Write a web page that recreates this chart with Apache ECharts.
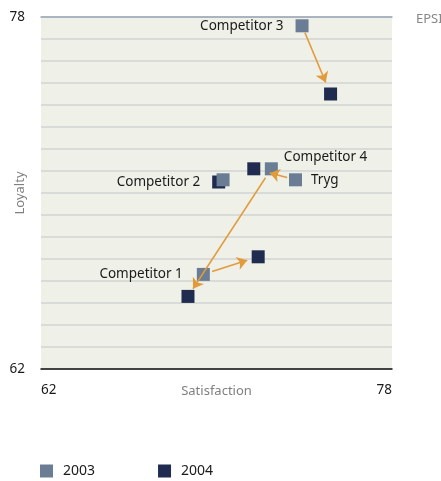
<!DOCTYPE html>
<html><head><meta charset="utf-8">
<script src="https://cdn.jsdelivr.net/npm/echarts@6/dist/echarts.min.js"></script>
<style>html,body{margin:0;padding:0;background:#fff}#c{width:441px;height:481px}</style>
</head><body><div id="c"></div>
<script>
const names = ['Competitor 1', 'Competitor 2', 'Competitor 3', 'Competitor 4', 'Tryg'];
const sat2003 = [69.4, 70.3, 73.9, 72.5, 73.6];
const loy2003 = [66.3, 70.6, 77.6, 71.1, 70.6];
const sat2004 = [71.9, 70.1, 75.2, 68.7, 71.7];
const loy2004 = [67.1, 70.5, 74.5, 65.3, 71.1];
const years = ['2003', '2004'];
const axisTicks = [62, 78];

// label placement per name: [series year, position, distance, offset]
const labelCfg = {
  'Competitor 1': ['2003', 'left', 14, [0, 0]],
  'Competitor 2': ['2004', 'left', 12, [0, 0]],
  'Competitor 3': ['2003', 'left', 12, [0, 0]],
  'Competitor 4': ['2003', 'right', 6, [0, -12]],
  'Tryg': ['2003', 'right', 9, [0, 0]]
};
// arrow trims (start/end fraction along 2003 -> 2004)
const trims = [[0.16, 0.8], null, [0.1, 0.83], [0.07, 0.94], [0.2, 0.62]];

const font = '"Noto Sans", "Open Sans", sans-serif';
function pts(year) {
  const sx = year === '2003' ? sat2003 : sat2004;
  const sy = year === '2003' ? loy2003 : loy2004;
  return names.map((n, i) => {
    const d = { name: n, value: [sx[i], sy[i]] };
    const c = labelCfg[n];
    if (c[0] === year) {
      d.label = { show: true, formatter: n, position: c[1], distance: c[2], offset: c[3],
        color: '#1a1a1a', fontSize: 13.5, fontFamily: font };
    }
    return d;
  });
}
const arrowData = [];
names.forEach((n, i) => {
  const t = trims[i];
  if (!t) return;
  const x0 = sat2003[i], y0 = loy2003[i], x1 = sat2004[i], y1 = loy2004[i];
  arrowData.push({ coords: [[x0 + (x1 - x0) * t[0], y0 + (y1 - y0) * t[0]],
                            [x0 + (x1 - x0) * t[1], y0 + (y1 - y0) * t[1]]] });
});

const chart = echarts.init(document.getElementById('c'), null, { renderer: 'canvas' });
chart.setOption({
  animation: false,
  textStyle: { fontFamily: font },
  grid: { left: 41, right: 49, top: 17, bottom: 112, show: true, backgroundColor: '#eff0e7',
    borderWidth: 0, containLabel: false, outerBoundsMode: 'none' },
  xAxis: [{
    type: 'value', min: axisTicks[0], max: axisTicks[1], interval: 1,
    name: 'Satisfaction', nameLocation: 'middle', nameGap: 16, nameMoveOverlap: false,
    nameTextStyle: { color: '#808080', fontSize: 13, verticalAlign: 'top', fontFamily: font },
    axisLine: { show: true, lineStyle: { color: '#111', width: 1.5 } },
    axisTick: { show: false }, splitLine: { show: false },
    axisLabel: { margin: 14, color: '#1a1a1a', fontSize: 13.5, fontFamily: font,
      alignMinLabel: 'left', alignMaxLabel: 'right',
      formatter: v => axisTicks.includes(v) ? String(v) : '' }
  }, {
    type: 'value', position: 'top', min: axisTicks[0], max: axisTicks[1],
    axisLine: { show: true, lineStyle: { color: '#9aa8b8', width: 1.5 } },
    axisTick: { show: false }, axisLabel: { show: false }, splitLine: { show: false }
  }],
  yAxis: {
    type: 'value', min: axisTicks[0], max: axisTicks[1], interval: 1,
    name: 'Loyalty', nameLocation: 'middle', nameGap: 14, nameRotate: 90, nameMoveOverlap: false,
    nameTextStyle: { color: '#808080', fontSize: 13, fontFamily: font },
    axisLine: { show: false }, axisTick: { show: false },
    splitLine: { show: true, lineStyle: { color: '#d2d5d4', width: 1.5 } },
    axisLabel: { margin: 16, color: '#1a1a1a', fontSize: 13.5, fontFamily: font,
      formatter: v => axisTicks.includes(v) ? String(v) : '' }
  },
  legend: {
    data: years, left: 40, top: 464, padding: 0, itemWidth: 13, itemHeight: 13, itemGap: 63,
    icon: 'rect', textStyle: { color: '#1a1a1a', fontSize: 14, fontFamily: font, padding: [0, 0, 0, 5] }
  },
  graphic: [{ type: 'text', left: 416, top: 13,
    style: { text: 'EPSI', fill: '#888', font: '13px ' + font } }],
  series: [
    { name: '2004', type: 'scatter', symbol: 'rect', symbolSize: 13, z: 2,
      itemStyle: { color: '#1f2b4f', opacity: 1 }, data: pts('2004') },
    { name: '2003', type: 'scatter', symbol: 'rect', symbolSize: 13, z: 3,
      itemStyle: { color: '#6a7d94', opacity: 1 }, data: pts('2003') },
    { name: 'arrows', type: 'lines', coordinateSystem: 'cartesian2d', z: 4,
      symbol: ['none', 'arrow'], symbolSize: 10,
      lineStyle: { color: '#e39a3b', width: 1.5, opacity: 1 }, data: arrowData }
  ]
});
</script></body></html>
